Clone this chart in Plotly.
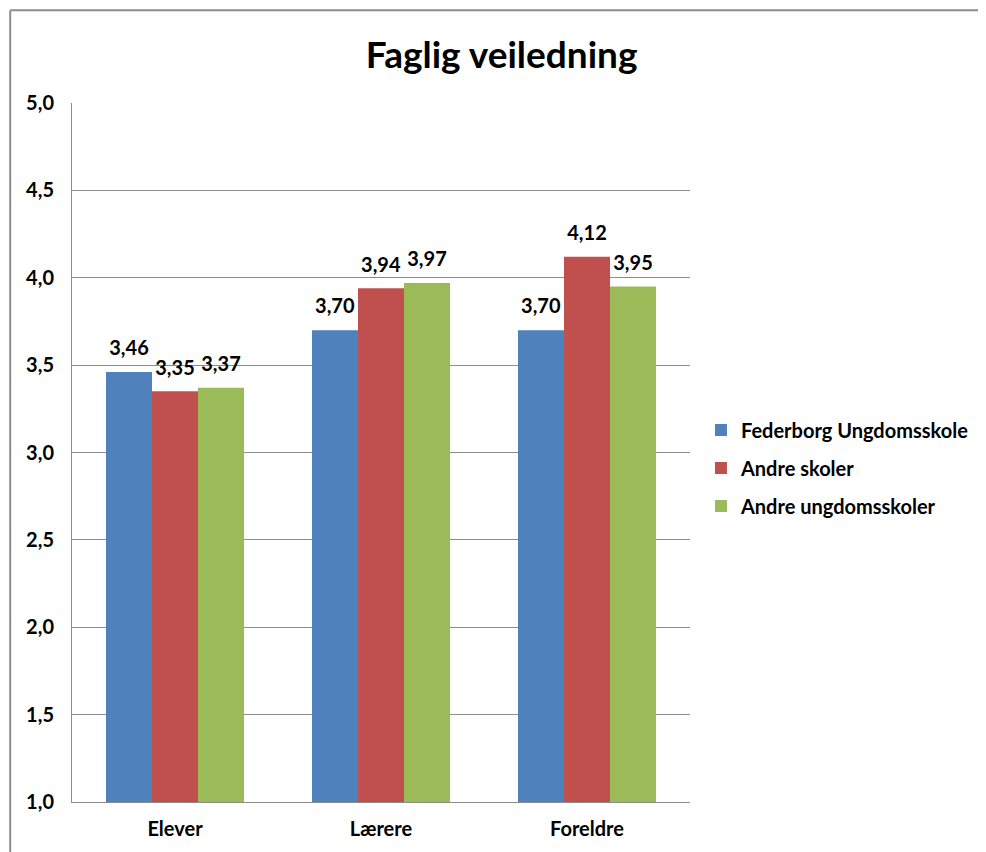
import plotly.graph_objects as go

categories = ["Elever", "Lærere", "Foreldre"]
series_names = ["Federborg Ungdomsskole", "Andre skoler", "Andre ungdomsskoler"]
federborg = [3.46, 3.70, 3.70]
andre_skoler = [3.35, 3.94, 4.12]
andre_ungdom = [3.37, 3.97, 3.95]
y_ticks = [1.0, 1.5, 2.0, 2.5, 3.0, 3.5, 4.0, 4.5, 5.0]

colors = ["#4F81BD", "#C0504D", "#9BBB59"]
FONT = "Lato"
FS = 20

fig = go.Figure()
for name, vals, col in zip(series_names, [federborg, andre_skoler, andre_ungdom], colors):
    fig.add_trace(go.Bar(
        x=categories, y=vals, name=name, legendgroup=name,
        marker=dict(color=col, line=dict(width=0)),
        texttemplate="<span style='font-size:20px'>%{y:.2f}</span><br> ",
        textposition="outside",
        textfont=dict(family=FONT, size=9, color="black", weight="bold"),
        cliponaxis=False,
    ))

# page body has an 8px margin, so canvas coords = screen coords - 8
OFF = 8
W, H = 986 - OFF, 852 - OFF
L, R, T, B = 72 - OFF, 986 - 692, 103 - OFF, 852 - 804
pw, ph = W - L - R, H - T - B

def px2paper_x(px):
    return (px - OFF - L) / pw

def px2paper_y(py):
    return (H - B - (py - OFF)) / ph

fig.update_layout(
    width=W, height=H,
    margin=dict(l=L, r=R, t=T, b=B, pad=0),
    paper_bgcolor="white", plot_bgcolor="white",
    separators=",.",
    barmode="group", bargap=0.33, bargroupgap=0,
    title=dict(text="Faglig veiledning", x=px2paper_x(503), xref="paper", xanchor="center",
               y=1 - (55 - OFF) / H, yanchor="middle",
               font=dict(family=FONT, size=37, color="black", weight="bold")),
    showlegend=True,
    legend=dict(x=px2paper_x(703), y=px2paper_y(469), xanchor="left", yanchor="middle",
                font=dict(family=FONT, size=FS, color="black", weight="bold"),
                traceorder="grouped", tracegroupgap=9, itemwidth=30,
                bgcolor="rgba(0,0,0,0)"),
    xaxis=dict(showgrid=False, showline=True, linecolor="#8c8c8c", linewidth=1,
               ticks="", tickfont=dict(family=FONT, size=FS, color="black", weight="bold"),
               ticklabelstandoff=9),
    yaxis=dict(range=[1, 5], tickvals=y_ticks, tickformat=".1f",
               showgrid=True, gridcolor="#8c8c8c", gridwidth=1,
               showline=True, linecolor="#8c8c8c", linewidth=1, ticks="",
               tickfont=dict(family=FONT, size=FS, color="black", weight="bold"),
               ticklabelstandoff=13, zeroline=False),
    shapes=[
        dict(type="line", xref="paper", yref="paper",
             x0=px2paper_x(10), x1=px2paper_x(1000), y0=px2paper_y(10), y1=px2paper_y(10),
             line=dict(color="#8c8c8c", width=2)),
        dict(type="line", xref="paper", yref="paper",
             x0=px2paper_x(10), x1=px2paper_x(10), y0=px2paper_y(10), y1=px2paper_y(870),
             line=dict(color="#8c8c8c", width=2)),
    ],
)

fig.write_html("out.html")
